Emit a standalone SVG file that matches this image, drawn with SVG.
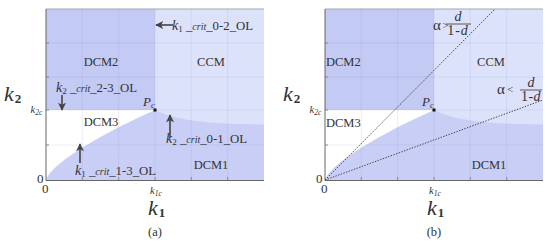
<svg xmlns="http://www.w3.org/2000/svg" xmlns:xlink="http://www.w3.org/1999/xlink" width="550" height="247" viewBox="0 0 550 247" font-family="'Liberation Serif', 'Times New Roman', serif">
<style>
text{font-family:"Liberation Serif","Times New Roman",serif;fill:#333}
.lbl{font-size:12.5px}
.ann{font-size:12.8px}
.it{font-style:italic}
.grid{stroke:#7d86c8;stroke-opacity:0.18;stroke-width:0.8;fill:none}
.axis{stroke:#666;stroke-width:1;fill:none}
.tick{stroke:#777;stroke-width:0.8}
.arr{stroke:#444;stroke-width:1.6;fill:none}
.dot{stroke:#333;stroke-width:0.9;stroke-dasharray:1.4 1.4;fill:none}
</style>
<defs>
<marker id="ah" viewBox="0 0 10 10" refX="9" refY="5" markerWidth="9" markerHeight="8" markerUnits="userSpaceOnUse" orient="auto" overflow="visible">
<path d="M0,0 L10,5 L0,10 L2.5,5 Z" fill="#444"/>
</marker>
<g id="plot">
<rect x="46" y="9" width="218" height="171" fill="#c8cef6"/>
<rect x="46" y="9" width="109" height="101" fill="#c3caf4"/>
<path d="M155,9 H264 V124.6 L230,123.8 L210,122.6 L190,120.3 L175,117.3 L165,114.2 L155,110 Z" fill="#dde2fb"/>
<path d="M46,110 H155 L136,118.8 L118,127.6 L100,137.2 L82,147.8 L66,158.6 L56,166.8 L50,173.1 L47,177.4 L46,180 Z" fill="#ffffff"/>
<path class="grid" d="M82.3,9 V180 M118.7,9 V180 M155,9 V180 M191.3,9 V180 M227.7,9 V180 M46,43 H264 M46,77 H264 M46,110 H264 M46,145 H264"/>
<path d="M46,9 H264" stroke="#a0a4b8" stroke-width="1"/>
<path class="axis" d="M46,9 V180.5 M46,180.5 H264"/>
<path class="tick" d="M46,43 h3 M46,77 h3 M46,110 h3 M46,145 h3 M82.3,180 v-3 M118.7,180 v-3 M155,180 v-3 M191.3,180 v-3 M227.7,180 v-3"/>
<rect x="153.5" y="108.5" width="3" height="3" fill="#111"/>
<text x="143" y="106" class="it" font-size="13">P<tspan font-size="8.5" dy="2">c</tspan></text>
<text x="37" y="183" font-size="13">0</text>
<text x="42" y="193" font-size="13">0</text>
<text x="30.5" y="113" class="it" font-size="10.5">k<tspan font-size="7.5" dy="1.5">2c</tspan></text>
<text x="150" y="194" class="it" font-size="10.5">k<tspan font-size="7.5" dy="1.5">1c</tspan></text>
<text x="4" y="101" class="it" font-size="22">k<tspan font-size="13" font-style="normal" font-weight="bold" dx="1" dy="2">2</tspan></text>
<text x="148" y="215" class="it" font-size="22">k<tspan font-size="13" font-style="normal" font-weight="bold" dx="1" dy="2">1</tspan></text>
</g>
</defs>
<g id="panel-a">
<use xlink:href="#plot" href="#plot"/>
<g id="a-labels">
<text class="lbl" x="101" y="66" text-anchor="middle">DCM2</text>
<text class="lbl" x="211" y="66" text-anchor="middle">CCM</text>
<text class="lbl" x="101" y="126" text-anchor="middle">DCM3</text>
<text class="lbl" x="211" y="169" text-anchor="middle">DCM1</text>
<text x="155" y="236" font-size="12.5" text-anchor="middle">(a)</text>
</g>
<g id="a-annotations">
<text class="ann" x="172" y="30"><tspan class="it" font-size="14">k</tspan><tspan font-size="9" dy="2">1</tspan><tspan dy="-2"> _</tspan><tspan class="it" font-size="10">crit</tspan>_0-2_OL</text>
<text class="ann" x="56" y="92"><tspan class="it" font-size="14">k</tspan><tspan font-size="9" dy="2">2</tspan><tspan dy="-2"> _</tspan><tspan class="it" font-size="10">crit</tspan>_2-3_OL</text>
<text class="ann" x="166" y="143"><tspan class="it" font-size="14">k</tspan><tspan font-size="9" dy="2">2</tspan><tspan dy="-2"> _</tspan><tspan class="it" font-size="10">crit</tspan>_0-1_OL</text>
<text class="ann" x="75" y="175"><tspan class="it" font-size="14">k</tspan><tspan font-size="9" dy="2">1</tspan><tspan dy="-2"> _</tspan><tspan class="it" font-size="10">crit</tspan>_1-3_OL</text>
</g>
<g id="a-arrows">
<path class="arr" d="M173,25 H156" marker-end="url(#ah)"/>
<path class="arr" d="M62,95 V110" marker-end="url(#ah)"/>
<path class="arr" d="M170,138 V115" marker-end="url(#ah)"/>
<path class="arr" d="M80,163 V144" marker-end="url(#ah)"/>
</g>
</g>
<g id="panel-b">
<use xlink:href="#plot" href="#plot" x="279"/>
<g id="b-labels">
<text class="lbl" x="326" y="66">DCM2</text>
<text class="lbl" x="491" y="66" text-anchor="middle">CCM</text>
<text class="lbl" x="326" y="127">DCM3</text>
<text class="lbl" x="489" y="169" text-anchor="middle">DCM1</text>
<text x="434" y="236" font-size="12.5" text-anchor="middle">(b)</text>
</g>
<g id="b-lines">
<path class="dot" d="M325,180 L495,9"/>
<path class="dot" d="M325,180 L543,100"/>
</g>
<g id="b-annotations">
<text x="433" y="30" font-size="15">α</text>
<text x="442.5" y="29" font-size="11">&gt;</text>
<text x="458" y="21" class="it" font-size="14" text-anchor="middle">d</text>
<path d="M446,24 H471" stroke="#333" stroke-width="0.8"/>
<text x="458" y="35" font-size="14" text-anchor="middle" letter-spacing="1">1-<tspan class="it">d</tspan></text>
<text x="497" y="94" font-size="15">α</text>
<text x="507" y="93" font-size="11">&lt;</text>
<text x="531" y="87" class="it" font-size="14" text-anchor="middle">d</text>
<path d="M520,90 H542" stroke="#333" stroke-width="0.8"/>
<text x="531" y="101" font-size="14" text-anchor="middle" letter-spacing="0.5">1-<tspan class="it">d</tspan></text>
</g>
</g>
</svg>
